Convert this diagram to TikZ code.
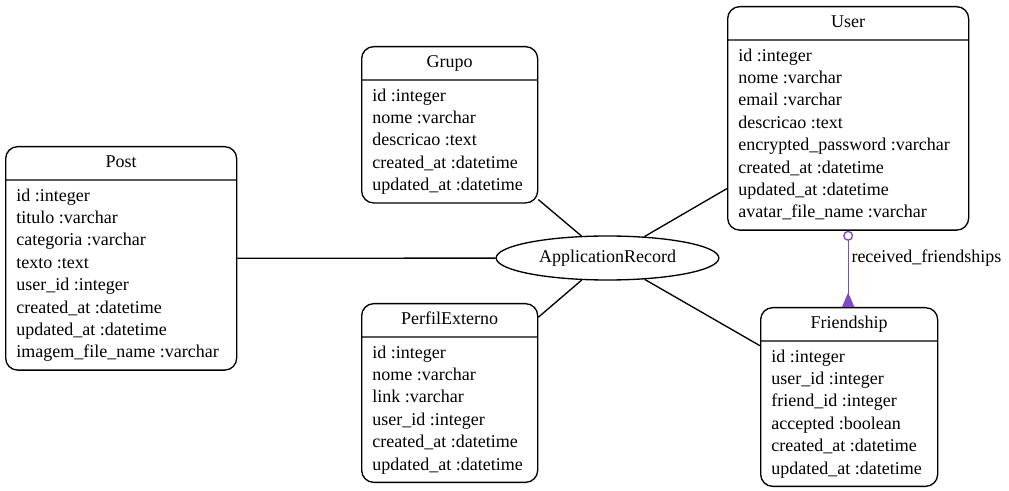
\documentclass[tikz,border=0pt]{standalone}
\usepackage{fontspec}
\setmainfont{Liberation Serif}
\definecolor{erpurple}{RGB}{125,75,200}
\usetikzlibrary{arrows.meta,shapes.geometric,shapes.multipart}

\begin{document}
\begin{tikzpicture}[x=0.75pt, y=-0.75pt,
  tbl/.style={rectangle split, rectangle split parts=2, draw, line width=1pt,
              rounded corners=9pt, anchor=north west, inner xsep=8pt, inner ysep=3.6pt,
              rectangle split part align={center,left},
              font=\fontsize{13.5}{16.8}\selectfont},
  rec/.style={ellipse, draw, line width=1pt, minimum width=167pt, minimum height=33pt,
              inner sep=0pt, font=\fontsize{13.5}{16.8}\selectfont},
  lbl/.style={anchor=west, inner sep=2pt, font=\fontsize{13.5}{16.8}\selectfont},
  conn/.style={line width=1pt},
  assoc/.style={line width=1pt, draw=erpurple, fill=erpurple,
                {Circle[open,length=7.5pt,width=7.5pt]}-{Triangle[reversed,length=11pt,width=9pt]}}
]
\useasboundingbox (0,0) rectangle (1009,491);

% tables
\node[tbl, minimum width=173.25pt] (post) at (5,146) {Post\strut
  \nodepart{two}\begin{tabular}{@{}l@{}}
  id :integer\\ titulo :varchar\\ categoria :varchar\\ texto :text\\
  user\_id :integer\\ created\_at :datetime\\ updated\_at :datetime\\
  imagem\_file\_name :varchar
  \end{tabular}};

\node[tbl, minimum width=132pt] (grupo) at (361,46) {Grupo\strut
  \nodepart{two}\begin{tabular}{@{}l@{}}
  id :integer\\ nome :varchar\\ descricao :text\\
  created\_at :datetime\\ updated\_at :datetime
  \end{tabular}};

\node[tbl, minimum width=180.75pt] (user) at (727,6) {User\strut
  \nodepart{two}\begin{tabular}{@{}l@{}}
  id :integer\\ nome :varchar\\ email :varchar\\ descricao :text\\
  encrypted\_password :varchar\\ created\_at :datetime\\ updated\_at :datetime\\
  avatar\_file\_name :varchar
  \end{tabular}};

\node[tbl, minimum width=132pt] (perfil) at (361,303) {PerfilExterno\strut
  \nodepart{two}\begin{tabular}{@{}l@{}}
  id :integer\\ nome :varchar\\ link :varchar\\ user\_id :integer\\
  created\_at :datetime\\ updated\_at :datetime
  \end{tabular}};

\node[tbl, minimum width=132.75pt] (friendship) at (760,307) {Friendship\strut
  \nodepart{two}\begin{tabular}{@{}l@{}}
  id :integer\\ user\_id :integer\\ friend\_id :integer\\ accepted :boolean\\
  created\_at :datetime\\ updated\_at :datetime
  \end{tabular}};

\node[rec] (app) at (607.5,258) {ApplicationRecord};

% inheritance lines
\draw[conn] (post) -- (app);
\draw[conn] (grupo) -- (app);
\draw[conn] (user) -- (app);
\draw[conn] (perfil) -- (app);
\draw[conn] (friendship) -- (app);

% association
\draw[assoc] (user.south) -- node[lbl, pos=0.36, fill=none, text=black] {received\_friendships}
  (user.south |- friendship.north);
\end{tikzpicture}
\end{document}
